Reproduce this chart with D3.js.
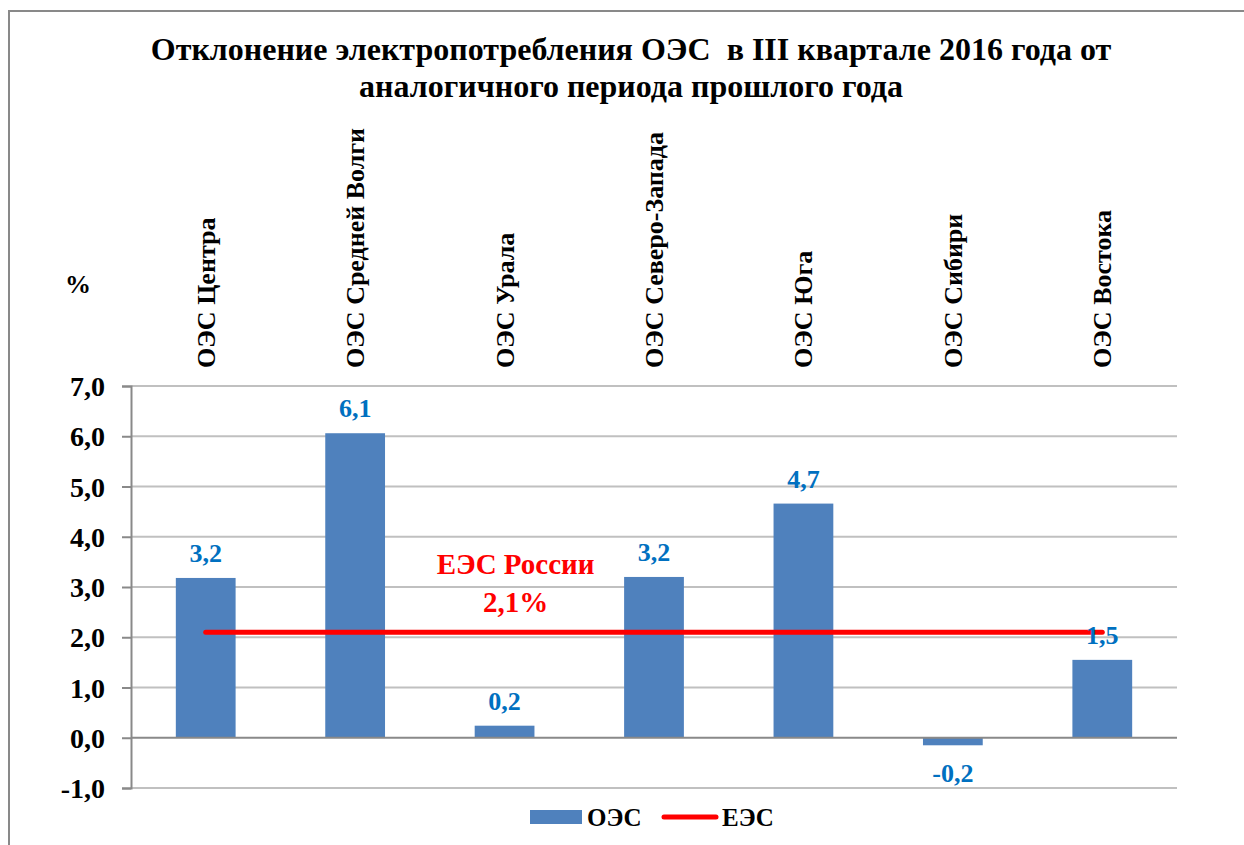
<!DOCTYPE html>
<html>
<head>
<meta charset="utf-8">
<script src="https://cdn.jsdelivr.net/npm/d3@7"></script>
<style>
  body { margin: 0; background: #fff; }
  text { font-family: "Liberation Serif", "Times New Roman", serif; font-weight: bold; }
</style>
</head>
<body>
<div id="chart"></div>
<script>
// data
const categories = ["ОЭС Центра", "ОЭС Средней Волги", "ОЭС Урала", "ОЭС Северо-Запада", "ОЭС Юга", "ОЭС Сибири", "ОЭС Востока"];
const oesValues = [3.18, 6.06, 0.24, 3.2, 4.66, -0.15, 1.55];
const oesLabels = ["3,2", "6,1", "0,2", "3,2", "4,7", "-0,2", "1,5"];
const eesValue = 2.1;
const yTicks = [-1, 0, 1, 2, 3, 4, 5, 6, 7];
const titleLines = ["Отклонение электропотребления ОЭС  в III квартале 2016 года от", "аналогичного периода прошлого года"];

const width = 1244;
const height = 845;
const plotLeft = 131, plotRight = 1177, plotTop = 386, plotBottom = 788;

const svg = d3.select("#chart").append("svg")
    .attr("width", width)
    .attr("height", height);

// frame
svg.append("path")
    .attr("d", "M9," + height + "V11H" + width)
    .attr("fill", "none")
    .attr("stroke", "#898989")
    .attr("stroke-width", 2);

// title
svg.append("g").selectAll("text")
  .data(titleLines)
  .join("text")
    .attr("x", 631)
    .attr("y", (d, i) => 60 + i * 37)
    .attr("text-anchor", "middle")
    .attr("font-size", 32)
    .style("white-space", "pre")
    .text(d => d);

// scales
const x = d3.scaleBand().domain(categories).range([plotLeft, plotRight]).paddingInner(0.6).paddingOuter(0.3);
const y = d3.scaleLinear().domain([-1, 7]).range([plotBottom, plotTop]);

// grid
svg.append("g").selectAll("line")
  .data(yTicks.filter(d => d !== 0))
  .join("line")
    .attr("x1", plotLeft).attr("x2", plotRight)
    .attr("y1", d => y(d)).attr("y2", d => y(d))
    .attr("stroke", "#c0c0c0")
    .attr("stroke-width", 2);

// y axis
const yaxis = d3.axisLeft(y).tickValues(yTicks).tickSize(9).tickPadding(17)
    .tickFormat(d => d.toFixed(1).replace(".", ","));
const gy = svg.append("g")
    .attr("transform", "translate(" + plotLeft + ",0)")
    .call(yaxis);
gy.select(".domain").attr("stroke", "#898989").attr("stroke-width", 2);
gy.selectAll(".tick line").attr("stroke", "#898989").attr("stroke-width", 2);
gy.selectAll(".tick text")
    .attr("fill", "#000")
    .attr("font-size", 28)
    .attr("dy", "0.34em");

// bars
svg.append("g").selectAll("rect")
  .data(oesValues)
  .join("rect")
    .attr("x", (d, i) => x(categories[i]))
    .attr("width", x.bandwidth())
    .attr("y", d => y(Math.max(0, d)))
    .attr("height", d => Math.abs(y(d) - y(0)))
    .attr("fill", "#4f81bd");

// zero line
svg.append("line")
    .attr("x1", plotLeft).attr("x2", plotRight)
    .attr("y1", y(0)).attr("y2", y(0))
    .attr("stroke", "#898989")
    .attr("stroke-width", 2);

// EES line
const xc = c => x(c) + x.bandwidth() / 2;
svg.append("line")
    .attr("x1", xc(categories[0]))
    .attr("x2", xc(categories[categories.length - 1]))
    .attr("y1", y(eesValue)).attr("y2", y(eesValue))
    .attr("stroke", "#ff0000")
    .attr("stroke-width", 5)
    .attr("stroke-linecap", "round");

// value labels
svg.append("g").selectAll("text")
  .data(oesValues)
  .join("text")
    .attr("x", (d, i) => xc(categories[i]))
    .attr("y", d => d >= 0 ? y(d) - 16 : y(d) + 37)
    .attr("text-anchor", "middle")
    .attr("font-size", 26)
    .attr("fill", "#0070c0")
    .text((d, i) => oesLabels[i]);

// category labels (rotated)
svg.append("g").selectAll("text")
  .data(categories)
  .join("text")
    .attr("transform", d => "translate(" + (xc(d) + 9) + ",368) rotate(-90)")
    .attr("font-size", 26)
    .attr("fill", "#000")
    .text(d => d);

// % label
svg.append("text")
    .attr("x", 65).attr("y", 293)
    .attr("font-size", 26)
    .text("%");

// EES annotation
const annX = xc(categories[2]) + 11;
svg.append("text")
    .attr("x", annX).attr("y", y(eesValue) - 58)
    .attr("text-anchor", "middle")
    .attr("font-size", 29)
    .attr("fill", "#ff0000")
    .text("ЕЭС России");
svg.append("text")
    .attr("x", annX).attr("y", y(eesValue) - 20)
    .attr("text-anchor", "middle")
    .attr("font-size", 29)
    .attr("fill", "#ff0000")
    .text((eesValue.toFixed(1) + "%").replace(".", ","));

// legend
const lg = svg.append("g").attr("transform", "translate(530,817)");
lg.append("rect").attr("x", 0).attr("y", -7).attr("width", 52).attr("height", 14).attr("fill", "#4f81bd");
lg.append("text").attr("x", 57).attr("y", 9).attr("font-size", 25).text("ОЭС");
lg.append("line").attr("x1", 134).attr("x2", 186).attr("y1", 0).attr("y2", 0)
    .attr("stroke", "#ff0000").attr("stroke-width", 5).attr("stroke-linecap", "round");
lg.append("text").attr("x", 192).attr("y", 9).attr("font-size", 25).text("ЕЭС");
</script>
</body>
</html>
